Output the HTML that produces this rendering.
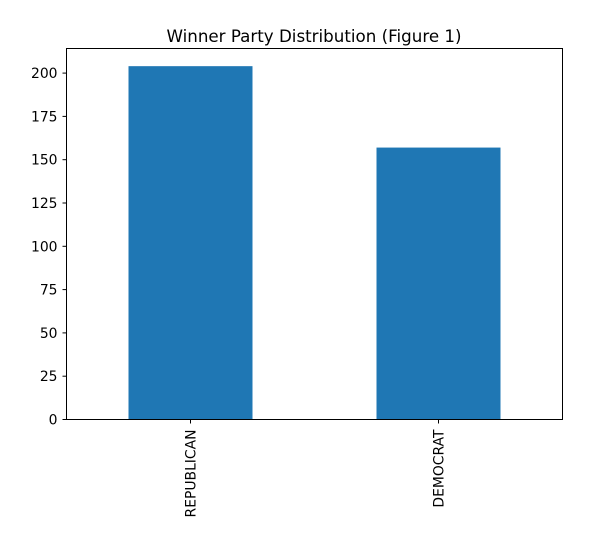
<!DOCTYPE html>
<html><head><meta charset="utf-8"><style>body{margin:0;background:#fff}svg{display:block}text{font-family:"DejaVu Sans","Liberation Sans",sans-serif;fill:#000}</style></head>
<body>
<svg id="chart" width="592" height="547">
<text x="314" y="42" font-size="16.7" text-anchor="middle">Winner Party Distribution (Figure 1)</text>
<g id="plot"></g>
<rect x="66.5" y="48.5" width="496" height="371" fill="none" stroke="#000" stroke-width="1"/>
</svg>
<script>
const categories = ["REPUBLICAN", "DEMOCRAT"];
const values = [204, 157];
const yTicks = [0, 25, 50, 75, 100, 125, 150, 175, 200];
const L = 66.5, R = 562.5, T = 48.5, B = 419.5;
const yMax = Math.max(...values) * 1.05;
const y = v => B - (v / yMax) * (B - T);
const band = (R - L) / categories.length;
const x = i => L + band * (i + 0.5);
const g = document.getElementById('plot');
const NS = 'http://www.w3.org/2000/svg';
function mk(t, a) { const e = document.createElementNS(NS, t); for (const k in a) e.setAttribute(k, a[k]); return e; }
categories.forEach((c, i) => {
  const w = band * 0.5;
  const r = mk('rect', { x: x(i) - w / 2, y: y(values[i]), width: w, height: B - y(values[i]), fill: '#1f77b4' });
  
  
  g.appendChild(r);
  const tk = mk('line', { x1: x(i), x2: x(i), y1: B, y2: B + 4, stroke: '#000' });
  
  
  g.appendChild(tk);
  const t = mk('text', { x: 0, y: 0, 'font-size': 13.9, 'text-anchor': 'end', transform: `translate(${x(i) + 5},${B + 10}) rotate(-90)` });
  t.textContent = c;
  
  
  g.appendChild(t);
});
yTicks.forEach(v => {
  const tk = mk('line', { x1: L - 4, x2: L, y1: y(v), y2: y(v), stroke: '#000' });
  
  
  g.appendChild(tk);
  const t = mk('text', { x: L - 9, y: y(v) + 5, 'font-size': 13.9, 'text-anchor': 'end' });
  t.textContent = v;
  
  
  g.appendChild(t);
});
</script>
</body></html>
